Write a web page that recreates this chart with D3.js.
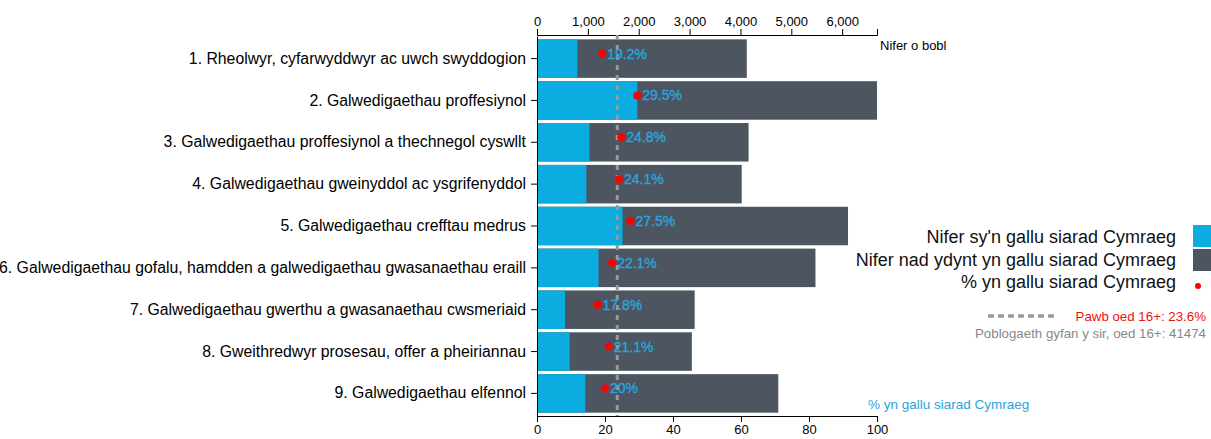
<!DOCTYPE html>
<html>
<head>
<meta charset="utf-8">
<script src="https://cdn.jsdelivr.net/npm/d3@7"></script>
<style>
  body { margin: 0; background: #fff; }
  svg { font-family: "Liberation Sans", Arial, sans-serif; }
  .axis text { fill: #000; }
  .axis path, .axis line { stroke: #000; }
</style>
</head>
<body>
<div class="chart"></div>
<script>
var svgWidth = 1211;
var svgHeight = 439;

// data
var categories = [
    "1. Rheolwyr, cyfarwyddwyr ac uwch swyddogion",
    "2. Galwedigaethau proffesiynol",
    "3. Galwedigaethau proffesiynol a thechnegol cyswllt",
    "4. Galwedigaethau gweinyddol ac ysgrifenyddol",
    "5. Galwedigaethau crefftau medrus",
    "6. Galwedigaethau gofalu, hamdden a galwedigaethau gwasanaethau eraill",
    "7. Galwedigaethau gwerthu a gwasanaethau cwsmeriaid",
    "8. Gweithredwyr prosesau, offer a pheiriannau",
    "9. Galwedigaethau elfennol"
];
var welshSpeakers = [792, 1972, 1032, 970, 1682, 1210, 552, 642, 949];
var totalPeople = [4125, 6685, 4160, 4025, 6115, 5475, 3100, 3045, 4744];
var percentWelsh = [19.2, 29.5, 24.8, 24.1, 27.5, 22.1, 17.8, 21.1, 20];
var percentLabels = ["19.2%", "29.5%", "24.8%", "24.1%", "27.5%", "22.1%", "17.8%", "21.1%", "20%"];
var allAdultsPercent = 23.6;
var allAdultsTotal = 41474;
var legendLabels = [
    "Nifer sy'n gallu siarad Cymraeg",
    "Nifer nad ydynt yn gallu siarad Cymraeg",
    "% yn gallu siarad Cymraeg"
];

var colWelsh = "#0badE1";
var colOther = "#4c5560";
var colDot = "#ff0000";
var colPct = "#2aa3dc";

var margin = { top: 35, left: 537, right: 334, bottom: 23 };
var plotRight = svgWidth - margin.right;
var plotBottom = svgHeight - margin.bottom;

var svg = d3.select(".chart")
    .append("svg")
    .attr("width", svgWidth)
    .attr("height", svgHeight);

var rows = categories.map(function (c, i) {
    return {
        cat: c,
        welsh: welshSpeakers[i],
        total: totalPeople[i],
        pct: percentWelsh[i],
        label: percentLabels[i]
    };
});

// scales
var xCount = d3.scaleLinear()
    .domain([0, d3.max(totalPeople)])
    .range([margin.left, plotRight]);

var xPct = d3.scaleLinear()
    .domain([0, 100])
    .range([margin.left, plotRight]);

var y = d3.scaleBand()
    .domain(categories)
    .range([margin.top + 1, plotBottom])
    .padding(0.08);

// bars: total first, welsh on top
svg.append("g").selectAll("rect.total")
    .data(rows)
    .enter()
    .append("rect")
    .attr("x", xCount(0))
    .attr("y", d => y(d.cat))
    .attr("width", d => xCount(d.total) - xCount(0))
    .attr("height", y.bandwidth())
    .attr("fill", colOther);

svg.append("g").selectAll("rect.welsh")
    .data(rows)
    .enter()
    .append("rect")
    .attr("x", xCount(0))
    .attr("y", d => y(d.cat))
    .attr("width", d => xCount(d.welsh) - xCount(0))
    .attr("height", y.bandwidth())
    .attr("fill", colWelsh);

// axes
var topAxis = svg.append("g")
    .attr("class", "axis")
    .attr("transform", `translate(0, ${margin.top})`)
    .call(d3.axisTop(xCount).ticks(7).tickFormat(d3.format(",")));

var bottomAxis = svg.append("g")
    .attr("class", "axis")
    .attr("transform", `translate(0, ${plotBottom})`)
    .call(d3.axisBottom(xPct).ticks(5));

var leftAxis = svg.append("g")
    .attr("class", "axis")
    .attr("transform", `translate(${margin.left}, 0)`)
    .call(d3.axisLeft(y).tickSizeOuter(0).tickPadding(5));

svg.selectAll(".axis text").attr("font-size", "13px");
leftAxis.selectAll("text").attr("font-size", "15.8px").attr("fill", "#111");

// average line
svg.append("line")
    .attr("x1", xPct(allAdultsPercent))
    .attr("x2", xPct(allAdultsPercent))
    .attr("y1", margin.top)
    .attr("y2", plotBottom)
    .attr("stroke", "#999")
    .attr("stroke-width", 3)
    .attr("stroke-dasharray", "5,5");

// dots and percent labels
svg.append("g").selectAll("circle")
    .data(rows)
    .enter()
    .append("circle")
    .attr("cx", d => xPct(d.pct))
    .attr("cy", d => y(d.cat) + y.bandwidth() / 2 - 5)
    .attr("r", 4)
    .attr("fill", colDot);

svg.append("g").selectAll("text")
    .data(rows)
    .enter()
    .append("text")
    .attr("x", d => xPct(d.pct) + 5)
    .attr("y", d => y(d.cat) + y.bandwidth() / 2)
    .attr("font-size", "14px")
    .attr("fill", colPct)
    .attr("stroke", colPct)
    .attr("stroke-width", 0.4)
    .text(d => d.label);

// axis titles
svg.append("text")
    .attr("x", 880)
    .attr("y", 50)
    .attr("font-size", "13px")
    .text("Nifer o bobl");

svg.append("text")
    .attr("x", 868)
    .attr("y", 409)
    .attr("font-size", "13.5px")
    .attr("fill", colPct)
    .text("% yn gallu siarad Cymraeg");

// legend
var legend = svg.append("g").attr("transform", "translate(1176, 0)");
var legendY = [237, 260, 282];

legend.selectAll("text.lg")
    .data(legendLabels)
    .enter()
    .append("text")
    .attr("x", 0)
    .attr("y", (d, i) => legendY[i])
    .attr("dy", "0.35em")
    .attr("text-anchor", "end")
    .attr("font-size", "18px")
    .attr("fill", "#111")
    .text(d => d);

legend.append("rect")
    .attr("x", 17).attr("y", 225)
    .attr("width", 22).attr("height", 22)
    .attr("fill", colWelsh);

legend.append("rect")
    .attr("x", 17).attr("y", 249)
    .attr("width", 22).attr("height", 22)
    .attr("fill", colOther);

legend.append("circle")
    .attr("cx", 22).attr("cy", 286)
    .attr("r", 3)
    .attr("fill", colDot);

svg.append("line")
    .attr("x1", 988).attr("x2", 1058)
    .attr("y1", 316).attr("y2", 316)
    .attr("stroke", "#999")
    .attr("stroke-width", 3.5)
    .attr("stroke-dasharray", "6,4");

svg.append("text")
    .attr("x", 1206)
    .attr("y", 316)
    .attr("dy", "0.35em")
    .attr("text-anchor", "end")
    .attr("font-size", "13.3px")
    .attr("fill", "#ee1111")
    .text("Pawb oed 16+: " + allAdultsPercent + "%");

svg.append("text")
    .attr("x", 1206)
    .attr("y", 333)
    .attr("dy", "0.35em")
    .attr("text-anchor", "end")
    .attr("font-size", "13.3px")
    .attr("fill", "#888")
    .text("Poblogaeth gyfan y sir, oed 16+: " + allAdultsTotal);
</script>
</body>
</html>
